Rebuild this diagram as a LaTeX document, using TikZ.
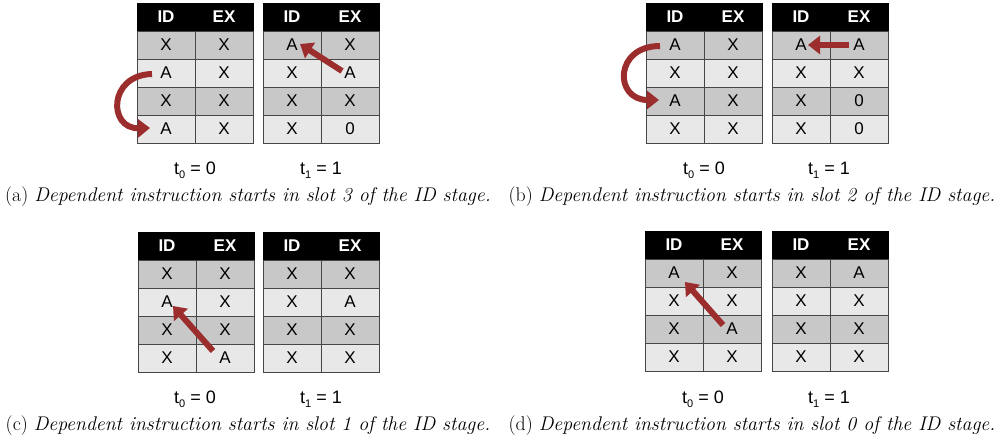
\documentclass[tikz,border=0pt]{standalone}
\usepackage{fontspec}
\newfontfamily\arialf{Liberation Sans}
\usetikzlibrary{arrows.meta}
\definecolor{arrred}{RGB}{156,45,45}
\definecolor{darkcell}{RGB}{200,200,200}
\definecolor{lightcell}{RGB}{232,232,232}
\definecolor{gridc}{RGB}{70,70,70}
\tikzset{
  hdr/.style={draw=black,fill=black,text=white,font=\arialf\bfseries\fontsize{17}{17}\selectfont,minimum width=58pt,minimum height=28pt,inner sep=0pt},
  cell/.style={draw=gridc,line width=0.8pt,font=\arialf\fontsize{17}{17}\selectfont,minimum width=58pt,minimum height=28pt,inner sep=0pt},
  arr/.style={draw=arrred,line width=6pt,-{Triangle[length=12pt,width=18pt]}},
  tlab/.style={font=\arialf\fontsize{18}{18}\selectfont,inner sep=0pt},
  captxt/.style={font=\fontsize{19.8}{22}\selectfont,inner sep=0pt}
}
\newcommand{\tsub}[2]{t\raisebox{-4pt}{\fontsize{11}{11}\selectfont #1} = #2}
\newcommand{\mktbl}[4]{%
  \begin{scope}[shift={(#2,#3)}]
    \node[hdr] (#1-hid) at (29,14) {ID};
    \node[hdr] (#1-hex) at (87,14) {EX};
    \foreach \a/\b [count=\i] in {#4} {
      \ifodd\i \def\fc{darkcell}\else \def\fc{lightcell}\fi
      \node[cell,fill=\fc] (#1-id\i) at (29,28*\i+14) {\a};
      \node[cell,fill=\fc] (#1-ex\i) at (87,28*\i+14) {\b};
    }
  \end{scope}
}
\begin{document}
\begin{tikzpicture}[x=1pt,y=-1pt]
\useasboundingbox (0,0) rectangle (1007,442);
% (a)
\mktbl{a1}{137}{3}{X/X,A/X,X/X,A/X}
\mktbl{a2}{263}{3}{A/X,X/A,X/X,X/0}
\node[tlab] (a1t) at (195,170) {\tsub{0}{0}};
\node[tlab] (a2t) at (321,170) {\tsub{1}{1}};
\node[captxt] (acap) at (248,197) {(a) \textit{Dependent instruction starts in slot 3 of the ID stage.}};
\draw[arr] ([shift={(-14,1)}]a1-id2.center) .. controls (108,75) and (108,129) .. ([shift={(-16,-1)}]a1-id4.center);
\draw[arr] ([shift={(-8,-2)}]a2-ex2.center) -- ([shift={(8,-1)}]a2-id1.center);
% (b)
\mktbl{b1}{646}{3}{A/X,X/X,A/X,X/X}
\mktbl{b2}{772}{3}{A/A,X/X,X/0,X/0}
\node[tlab] (b1t) at (704,170) {\tsub{0}{0}};
\node[tlab] (b2t) at (829,170) {\tsub{1}{1}};
\node[captxt] (bcap) at (752,197) {(b) \textit{Dependent instruction starts in slot 2 of the ID stage.}};
\draw[arr] ([shift={(-15,1)}]b1-id1.center) .. controls (614,46) and (614,100) .. ([shift={(-16,-1)}]b1-id3.center);
\draw[arr] ([shift={(-10,0)}]b2-ex1.center) -- ([shift={(7,0)}]b2-id1.center);
% (c)
\mktbl{c1}{138}{232}{X/X,A/X,X/X,X/A}
\mktbl{c2}{263}{232}{X/X,X/A,X/X,X/X}
\node[tlab] (c1t) at (195,399) {\tsub{0}{0}};
\node[tlab] (c2t) at (321,399) {\tsub{1}{1}};
\node[captxt] (ccap) at (248,426) {(c) \textit{Dependent instruction starts in slot 1 of the ID stage.}};
\draw[arr] ([shift={(-12,-7)}]c1-ex4.center) -- ([shift={(6,4)}]c1-id2.center);
% (d)
\mktbl{d1}{645}{231}{A/X,X/X,X/A,X/X}
\mktbl{d2}{772}{231}{X/A,X/X,X/X,X/X}
\node[tlab] (d1t) at (703,399) {\tsub{0}{0}};
\node[tlab] (d2t) at (829,399) {\tsub{1}{1}};
\node[captxt] (dcap) at (752,426) {(d) \textit{Dependent instruction starts in slot 0 of the ID stage.}};
\draw[arr] ([shift={(-9,-4)}]d1-ex3.center) -- ([shift={(11,9)}]d1-id1.center);
\end{tikzpicture}
\end{document}
